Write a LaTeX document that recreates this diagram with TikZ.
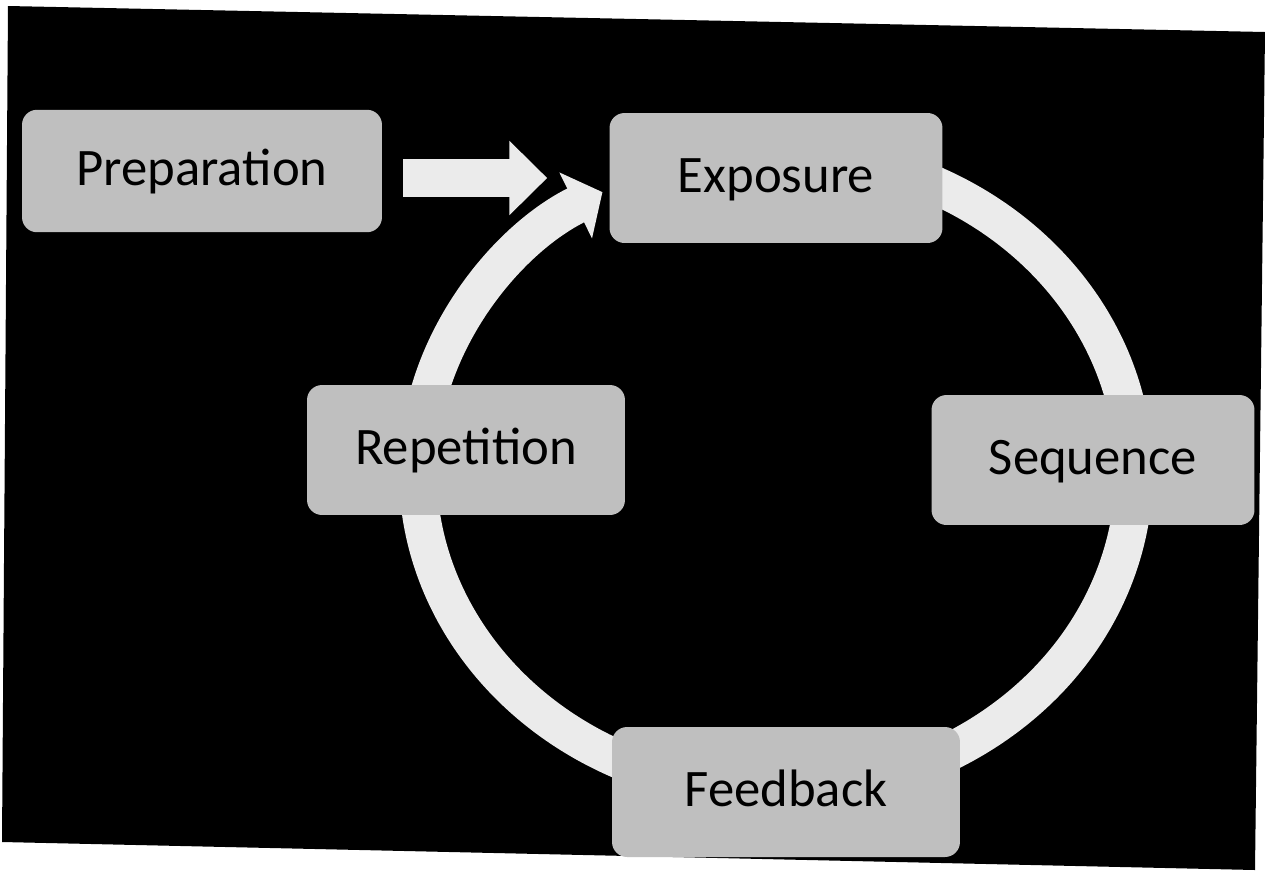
\documentclass[tikz,border=0pt]{standalone}
\usepackage{fontspec}
\setmainfont{Carlito}
\usetikzlibrary{arrows.meta}
\begin{document}
\begin{tikzpicture}[x=0.02cm,y=-0.02cm,
	box/.style={fill=black!25,rounded corners=0.3cm,minimum height=2.6cm,inner sep=0pt,
		text height=16pt,text depth=0pt,font=\fontsize{30}{36}\selectfont},
	ring/.style={line width=21.5pt,draw=black!8},
	blockarrow/.style={line width=22pt,draw=black!8,-{Triangle[length=21.5pt,width=41pt]}}]
	\useasboundingbox[fill=white] (0,0) rectangle (1265,870);
	\fill[black] (8,6) -- (1265,32) -- (1255,870) -- (2,842) -- cycle;
	% the cycle, drawn first so the boxes sit on it
	\coordinate (c) at (776,472);
	\draw[ring,-{Triangle[length=17pt,width=41pt]}] (c) ++(-73:358 and 320)
		arc[start angle=-73,end angle=241,x radius=358,y radius=320];
	\node[box,minimum width=7.2cm,minimum height=2.45cm] (prep) at (202,171) {Preparation};
	\node[box,minimum width=6.66cm] (expo) at (776,178) {Exposure};
	\node[box,minimum width=6.46cm] (seq) at (1093,460) {Sequence};
	\node[box,minimum width=6.96cm] (feed) at (786,792) {Feedback};
	\node[box,minimum width=6.36cm] (rep) at (466,450) {Repetition};
	\draw[blockarrow,shorten <=0.42cm,shorten >=1.24cm] (prep.east |- expo.west) -- (expo.west);
\end{tikzpicture}
\end{document}
